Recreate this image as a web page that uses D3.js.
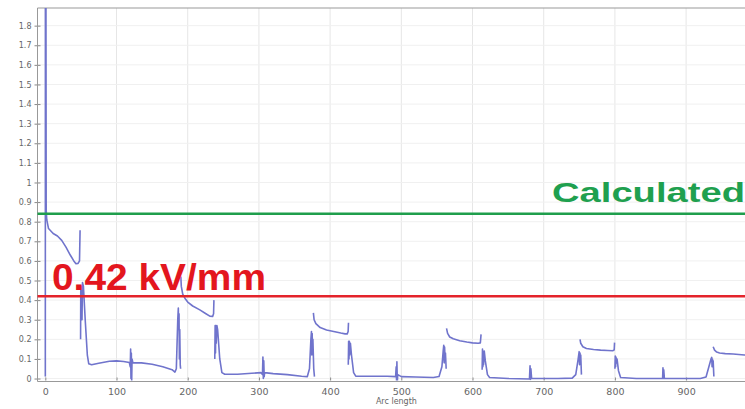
<!DOCTYPE html>
<html><head><meta charset="utf-8">
<script src="https://cdn.jsdelivr.net/npm/d3@7"></script>
<style>body{margin:0;background:#fff;overflow:hidden}</style>
</head><body>
<svg id="chart" width="745" height="409"></svg>
<script>
// ---- data ----
const xTicks = [0,100,200,300,400,500,600,700,800,900];
const yTicks = [0,0.1,0.2,0.3,0.4,0.5,0.6,0.7,0.8,0.9,1,1.1,1.2,1.3,1.4,1.5,1.6,1.7,1.8];
const redLevel = 0.42;
const greenLevel = 0.84;
const redLabel = "0.42 kV/mm";
const greenLabel = "Calculated";
const xLabel = "Arc length";

const startSpike = [[0,0.01],[0,0.1],[0.1,1.95]];
const upperSeg1 = [[0.8,1.95],[1.2,0.86],[2,0.81],[4.5,0.765],[11,0.74],[17,0.727],[23,0.705],[29,0.67],[35,0.63],[40,0.6],[43,0.586],[46,0.587],[48,0.6],[48.8,0.756]];
const lowerSeg1 = [[49.5,0.2],[49.8,0.47],[50.3,0.3],[50.8,0.46],[51.5,0.3],[52.2,0.49],[53.5,0.47],[56,0.3],[59,0.12],[61,0.075],[65,0.07],[75,0.078],[90,0.088],[100,0.09],[110,0.087],[118,0.082],[119.3,0.06],[119.8,0.15],[120.3,0.0],[120.8,0.13],[121.3,-0.01],[121.8,0.1],[123,0.08],[135,0.08],[150,0.073],[165,0.06],[178,0.045],[182,0.033],[184,0.05],[186,0.3],[186.8,0.36],[187.3,0.25],[187.8,0.33],[188.3,0.1],[188.8,0.25],[189.5,0.07],[190,0.05]];
const upperSeg2 = [[190.3,0.52],[191,0.47],[193,0.43],[196,0.41],[200,0.39],[207,0.37],[217,0.35],[225,0.332],[231,0.318],[235,0.317],[236.3,0.33],[236.8,0.40]];
const lowerSeg2 = [[238,0.1],[238.5,0.27],[239,0.13],[239.5,0.27],[240,0.18],[241,0.27],[242,0.25],[245,0.1],[248,0.03],[252,0.022],[270,0.022],[290,0.027],[303,0.03],[305,0.02],[305.6,0.11],[306.2,0.0],[306.8,0.09],[307.4,0.01],[308,0.03],[320,0.025],[340,0.02],[360,0.012],[368,0.01],[371,0.05],[373,0.2],[373.8,0.24],[374.3,0.12],[374.8,0.23],[375.3,0.13],[375.8,0.2],[377,0.05],[378,0.01]];
const upperSeg3 = [[376.5,0.335],[377.5,0.3],[380,0.28],[386,0.26],[395,0.248],[405,0.24],[415,0.232],[421,0.228],[424,0.228],[425.3,0.24],[425.8,0.285]];
const lowerSeg3 = [[425.5,0.07],[426,0.19],[426.5,0.1],[427,0.19],[427.5,0.12],[428.5,0.18],[430,0.12],[433,0.03],[436,0.012],[460,0.012],[480,0.012],[492,0.01],[492.8,0.06],[493.3,-0.01],[493.8,0.085],[494.4,-0.015],[495,0.02],[500,0.01],[520,0.008],[545,0.005],[553,0.01],[557,0.06],[558.8,0.14],[559.6,0.17],[560.2,0.08],[560.8,0.16],[561.4,0.1],[562,0.13],[563,0.05]];
const upperSeg4 = [[563.5,0.256],[565,0.23],[568,0.212],[573,0.203],[582,0.193],[592,0.186],[600,0.182],[608,0.18],[611,0.182],[612,0.225]];
const lowerSeg4 = [[613.5,0.045],[614,0.15],[614.5,0.06],[615,0.14],[615.5,0.07],[616.5,0.14],[618,0.09],[621,0.02],[624,0.005],[650,0.0],[680,-0.002],[680.8,0.065],[681.4,-0.005],[682,0.05],[683,0.0],[700,0.0],[720,0.0],[740,0.002],[745,0.02],[748,0.09],[749.8,0.137],[750.4,0.07],[751,0.13],[751.5,0.08],[752,0.12],[753,0.02]];
const upperSeg5 = [[751,0.2],[752,0.18],[755,0.162],[760,0.153],[770,0.148],[780,0.145],[790,0.143],[797,0.142],[799,0.146],[799.5,0.183]];
const lowerSeg5 = [[800,0.05],[800.5,0.115],[801,0.06],[801.5,0.11],[802,0.08],[803,0.1],[805,0.04],[808,0.005],[830,0.0],[867,0.0],[867.5,0.055],[868,0.0],[868.6,0.045],[869.5,0.0],[890,0.0],[920,0.0],[928,0.008],[932,0.06],[935,0.1],[936,0.108],[936.5,0.06],[937,0.1],[937.5,0.07],[938,0.09],[939,0.01]];
const upperSeg6 = [[938,0.162],[940,0.145],[943,0.135],[947,0.13],[955,0.127],[966,0.125],[982,0.12],[1000,0.118]];

const segments = [startSpike, upperSeg1, lowerSeg1, upperSeg2, lowerSeg2, upperSeg3, lowerSeg3, upperSeg4, lowerSeg4, upperSeg5, lowerSeg5, upperSeg6];

// ---- chart ----
const svg = d3.select("#chart");
const x = d3.scaleLinear().domain([-11, 1000]).range([37.5, 757.3]);
const y = d3.scaleLinear().domain([-0.01, 1.89]).range([380.5, 8]);
const [x0, x1] = x.range();
const [yb, yt] = y.range();

svg.append("rect").attr("width",745).attr("height",409).attr("fill","#fff");

svg.append("defs").append("clipPath").attr("id","plot")
  .append("rect").attr("x",x0).attr("y",yt).attr("width",x1-x0).attr("height",yb-yt);

// grid
const grid = svg.append("g");
grid.selectAll("line.v").data(xTicks).join("line")
  .attr("x1",d=>x(d)).attr("x2",d=>x(d)).attr("y1",yt).attr("y2",yb)
  .attr("stroke","#e6e6e6").attr("stroke-width",1);
grid.selectAll("line.h").data(yTicks).join("line")
  .attr("x1",x0).attr("x2",x1).attr("y1",d=>y(d)).attr("y2",d=>y(d))
  .attr("stroke","#f0f0f0").attr("stroke-width",1);

// axes
const xAxis = svg.append("g").attr("transform",`translate(0,${yb})`)
  .call(d3.axisBottom(x).tickValues(xTicks).tickSize(-3).tickPadding(8).tickFormat(d3.format("d")));
xAxis.select(".domain").remove();
xAxis.selectAll("line").attr("stroke","#888");
xAxis.selectAll("text").attr("fill","#666").style("font-family","DejaVu Sans").style("font-size","9.5px");

const yAxis = svg.append("g").attr("transform",`translate(${x0},0)`)
  .call(d3.axisLeft(y).tickValues(yTicks).tickSize(3).tickPadding(3).tickFormat(d=>String(+d.toFixed(1))));
yAxis.select(".domain").remove();
yAxis.selectAll("line").attr("x1",3).attr("x2",-3).attr("stroke","#888");
yAxis.selectAll("text").attr("fill","#666").style("font-family","DejaVu Sans").style("font-size","8px");

// frame
const frame = svg.append("g").attr("stroke","#999").attr("stroke-width",1).attr("fill","none");
frame.append("line").attr("x1",x0).attr("x2",x0).attr("y1",yt).attr("y2",yb+1);
frame.append("line").attr("x1",x0).attr("x2",x1).attr("y1",yt).attr("y2",yt);
frame.append("line").attr("x1",x0).attr("x2",x1).attr("y1",yb+1).attr("y2",yb+1);

svg.append("text").attr("x",(x0+x1)/2 - 1).attr("y",403.5).attr("text-anchor","middle")
  .attr("fill","#666").style("font-family","DejaVu Sans").style("font-size","8px").text(xLabel);

// curve
const line = d3.line().x(d=>x(d[0])).y(d=>y(d[1]));
svg.append("g").attr("clip-path","url(#plot)")
  .selectAll("path").data(segments).join("path")
  .attr("d",line).attr("fill","none").attr("stroke","#7074cc").attr("stroke-width",1.6)
  .attr("stroke-linejoin","round");

// threshold lines
svg.append("line").attr("x1",x0).attr("x2",x1).attr("y1",y(greenLevel)).attr("y2",y(greenLevel))
  .attr("stroke","#1f9e4c").attr("stroke-width",2.5);
svg.append("line").attr("x1",x0).attr("x2",x1).attr("y1",y(redLevel)).attr("y2",y(redLevel))
  .attr("stroke","#e4232b").attr("stroke-width",2.5);

// labels
svg.append("text").attr("x",52).attr("y",290).attr("fill","#e3161e")
  .style("font-family","Liberation Sans, Arial, sans-serif").style("font-weight","bold").style("font-size","37px")
  .attr("textLength",214).attr("lengthAdjust","spacingAndGlyphs").text(redLabel);
svg.append("text").attr("x",552).attr("y",202).attr("fill","#1fa04f")
  .style("font-family","Liberation Sans, Arial, sans-serif").style("font-weight","bold").style("font-size","27px")
  .attr("textLength",193).attr("lengthAdjust","spacingAndGlyphs").text(greenLabel);
</script>
</body></html>
